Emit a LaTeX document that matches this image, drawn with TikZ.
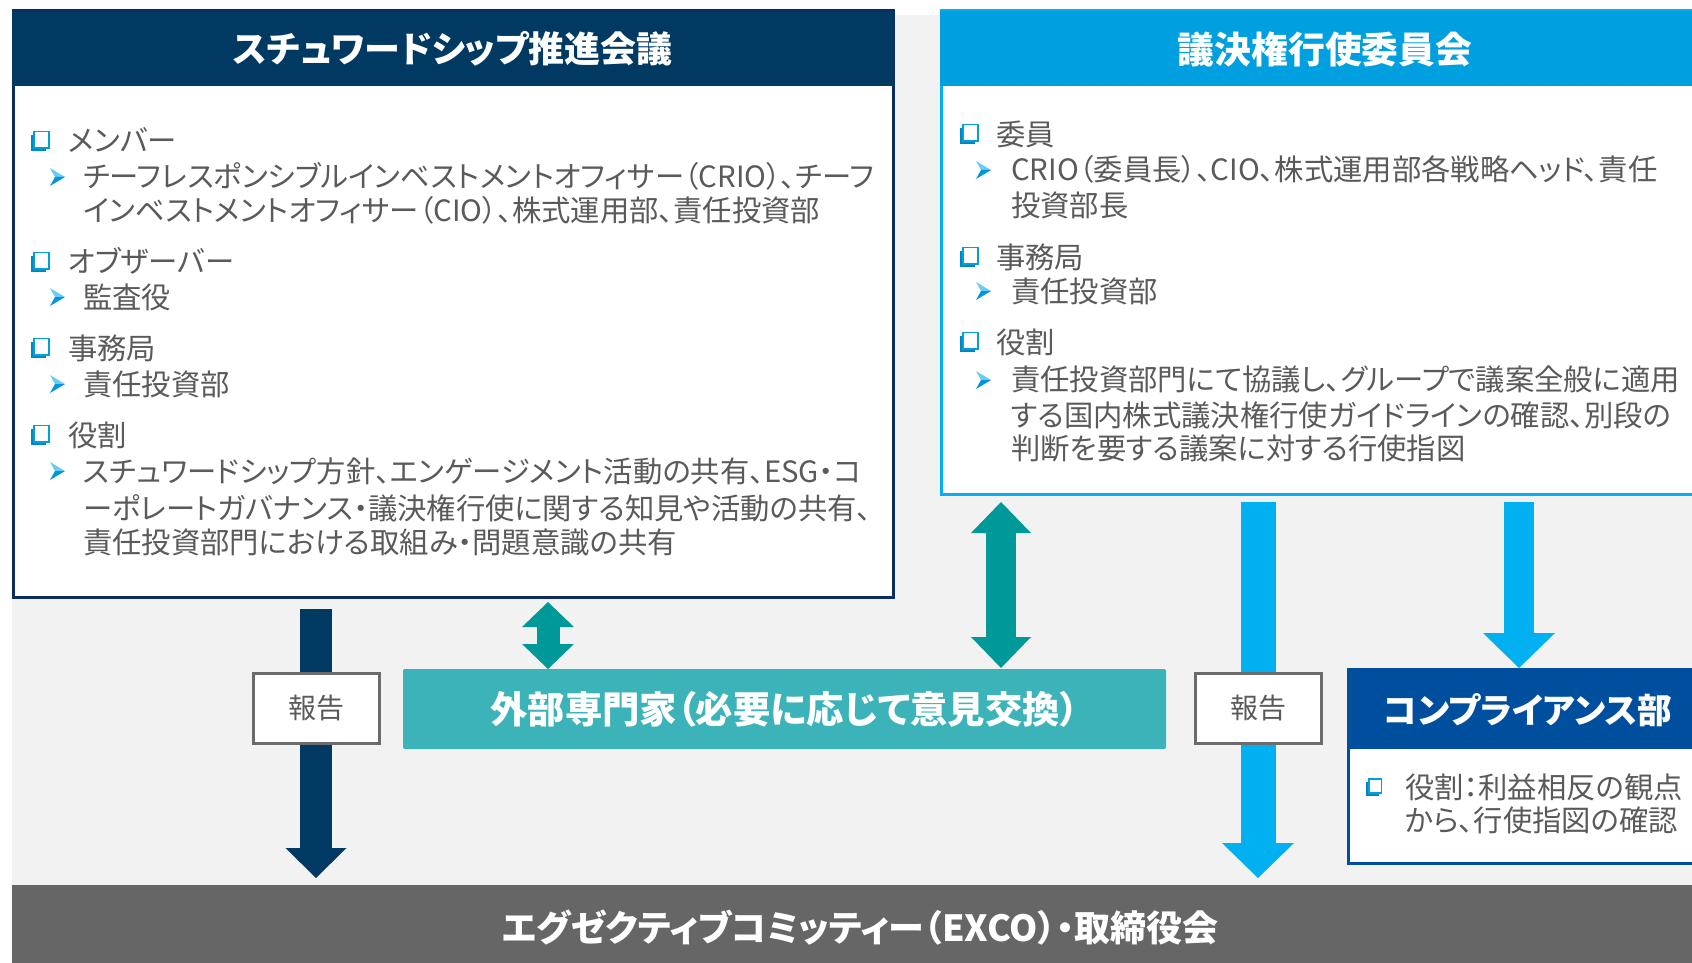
\documentclass[tikz,border=0pt]{standalone}
\usepackage{fontspec}
\newfontfamily\jp[RawFeature=+palt]{Noto Sans CJK JP}
\usetikzlibrary{arrows.meta}
\definecolor{navy}{HTML}{003A63}
\definecolor{swborder}{HTML}{0B2D5F}
\definecolor{vchead}{HTML}{009FDF}
\definecolor{vcborder}{HTML}{00B0F0}
\definecolor{lblue}{HTML}{00B0F0}
\definecolor{tealc}{HTML}{009999}
\definecolor{extc}{HTML}{3CB3B8}
\definecolor{compc}{HTML}{004F9F}
\definecolor{excoc}{HTML}{666666}
\definecolor{bggray}{HTML}{F2F2F2}
\definecolor{txtgray}{HTML}{5A5A5A}
\definecolor{repborder}{HTML}{6B6B6B}
\definecolor{bulblue}{HTML}{00A0E0}
\definecolor{arrlight}{HTML}{6CCBF3}
\definecolor{arrdark}{HTML}{0096DB}
\tikzset{
  sqb/.pic={
    \fill[bulblue!85!black] (-9,-6) rectangle (6,10);
    \filldraw[fill=white, draw=bulblue, line width=1.1pt] (-6,-9.5) rectangle (9,7);
  },
  arrb/.pic={
    \fill[arrlight] (0,-9) -- (15,0) -- (5,0) -- cycle;
    \fill[arrdark] (5,0) -- (15,0) -- (0,9) -- cycle;
  },
  bodytext/.style={font=\jp\fontsize{22}{26}\selectfont, text=txtgray, anchor=west, inner sep=0pt},
  titletext/.style={font=\jp\bfseries\fontsize{27}{32}\selectfont, text=white},
  boxnode/.style={inner sep=0pt, outer sep=0pt},
  repbox/.style={boxnode, draw=repborder, line width=2.25pt, fill=white, minimum width=94.5pt, minimum height=52.5pt, font=\jp\fontsize{21}{25}\selectfont, text=txtgray},
  blockarrow/.style n args={4}{draw=#1, line width=#2, {Triangle[length=#3, width=#4, line width=0pt]}-{Triangle[length=#3, width=#4, line width=0pt]}},
  downarrow/.style n args={4}{draw=#1, line width=#2, -{Triangle[length=#3, width=#4, line width=0pt]}}
}
\begin{document}
\begin{tikzpicture}[x=0.75pt,y=-0.75pt]
\useasboundingbox (0,0) rectangle (1692,963);
\fill[bggray] (12,15) rectangle (1692,963);

% left box
\node[boxnode, draw=swborder, line width=2.25pt, fill=white, minimum width=660pt, minimum height=439.5pt] (sw) at (453,304) {};
\node[boxnode, fill=navy, minimum width=661.5pt, minimum height=56.25pt, titletext] (swh) at (453,48.5) {スチュワードシップ推進会議};

% right box
\node[boxnode, draw=vcborder, line width=2.25pt, fill=white, minimum width=576.75pt, minimum height=362.25pt] (vc) at (1325.5,252.5) {};
\node[boxnode, fill=vchead, minimum width=578.25pt, minimum height=56.25pt, titletext] (vch) at (1325.5,48.5) {};
\node[titletext, inner sep=0pt, font=\jp\bfseries\fontsize{27.6}{32}\selectfont] (vctitle) at (1325,49) {議決権行使委員会};

% helper coordinates for arrow positions
\coordinate (xa) at (548,0);
\coordinate (xb) at (1001,0);
\coordinate (xc) at (1519,0);

% bottom bar
\node[boxnode, fill=excoc, minimum width=1272pt, minimum height=64.5pt] (exco) at (860,928) {};
\node[titletext, inner sep=0pt] (excotext) at (860,928) {エグゼクティブコミッティー（EXCO）・取締役会};

% external experts
\node[boxnode, fill=extc, rounded corners=1.5pt, minimum width=572.25pt, minimum height=60pt, font=\jp\bfseries\fontsize{28}{32}\selectfont, text=white] (ext) at (784.5,709) {外部専門家（必要に応じて意見交換）};

% report boxes positions (for arrows)
\coordinate (r1) at (316,708);
\coordinate (r2) at (1258,708);

% arrows
\draw[downarrow={navy}{24pt}{22.5pt}{45.75pt}, shorten <=9pt, shorten >=5.25pt] (sw.south -| r1) -- (exco.north -| r1);
\draw[downarrow={lblue}{26.25pt}{26.25pt}{54pt}, shorten <=6pt, shorten >=5.25pt] (vc.south -| r2) -- (exco.north -| r2);
\draw[blockarrow={tealc}{17.25pt}{18.75pt}{39pt}, shorten <=3.75pt] (sw.south -| xa) -- (ext.north -| xa);
\draw[blockarrow={tealc}{22.5pt}{23.25pt}{45pt}, shorten <=6pt, shorten >=0.75pt] (vc.south -| xb) -- (ext.north -| xb);

% compliance
\node[boxnode, draw=compc, line width=2.25pt, fill=white, minimum width=271.5pt, minimum height=145.5pt] (comp) at (1529,766) {};
\node[boxnode, fill=compc, minimum width=273pt, minimum height=60pt] (comph) at (1529,709) {};
\node[font=\jp\bfseries\fontsize{26}{30}\selectfont, text=white, inner sep=0pt] (comptitle) at (1528,710) {コンプライアンス部};
\draw[downarrow={lblue}{22.5pt}{26.25pt}{54pt}, shorten <=6pt, shorten >=0.75pt] (vc.south -| xc) -- (comph.north -| xc);

% report boxes
\node[repbox] (rep1) at (r1) {報告};
\node[repbox] (rep2) at (r2) {報告};

% left texts
\pic at (40,141) {sqb};
\node[bodytext] (l1) at (68,140) {メンバー};
\pic at (50,177) {arrb};
\node[bodytext] (l2) at (83,176) {チーフレスポンシブルインベストメントオフィサー（CRIO）、チーフ};
\node[bodytext] (l3) at (83,210) {インベストメントオフィサー（CIO）、株式運用部、責任投資部};
\pic at (40,262) {sqb};
\node[bodytext] (l4) at (68,261) {オブザーバー};
\pic at (50,297) {arrb};
\node[bodytext] (l5) at (83,297) {監査役};
\pic at (40,348) {sqb};
\node[bodytext] (l6) at (68,348) {事務局};
\pic at (50,384) {arrb};
\node[bodytext] (l7) at (83,384) {責任投資部};
\pic at (40,435) {sqb};
\node[bodytext] (l8) at (68,435) {役割};
\pic at (50,471) {arrb};
\node[bodytext] (l9) at (83,471) {スチュワードシップ方針、エンゲージメント活動の共有、ESG・コ};
\node[bodytext] (l10) at (83,508) {ーポレートガバナンス・議決権行使に関する知見や活動の共有、};
\node[bodytext] (l11) at (83,542) {責任投資部門における取組み・問題意識の共有};

% right texts
\pic at (969,134) {sqb};
\node[bodytext] (r1t) at (996,134) {委員};
\pic at (976,170) {arrb};
\node[bodytext] (r2t) at (1011,169) {CRIO（委員長）、CIO、株式運用部各戦略ヘッド、責任};
\node[bodytext] (r3t) at (1011,205) {投資部長};
\pic at (969,257) {sqb};
\node[bodytext] (r4t) at (996,257) {事務局};
\pic at (976,291) {arrb};
\node[bodytext] (r5t) at (1011,291) {責任投資部};
\pic at (969,342) {sqb};
\node[bodytext] (r6t) at (996,342) {役割};
\pic at (976,380) {arrb};
\node[bodytext] (r7t) at (1011,379) {責任投資部門にて協議し、グループで議案全般に適用};
\node[bodytext] (r8t) at (1011,415) {する国内株式議決権行使ガイドラインの確認、別段の};
\node[bodytext] (r9t) at (1011,448) {判断を要する議案に対する行使指図};

% compliance texts
\pic[scale=0.85] at (1374,787) {sqb};
\node[bodytext] (c1t) at (1405,787) {役割：利益相反の観点};
\node[bodytext] (c2t) at (1405,820) {から、行使指図の確認};
\end{tikzpicture}
\end{document}
